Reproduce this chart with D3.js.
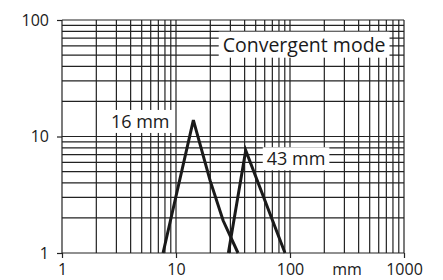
<!DOCTYPE html>
<html>
<head>
<script src="https://d3js.org/d3.v7.min.js"></script>
<style>
  body { margin: 0; background: #fff; }
  svg text { font-family: "Open Sans", sans-serif; fill: #1a1a1a; }
</style>
</head>
<body>
<div id="chart"></div>
<script>
// x: spot size / distance in mm, y: relative value (log-log)
const xTicks = [1, 10, 100, 1000];
const yTicks = [1, 10, 100];
const series16 = [[7.7, 1], [14.2, 13.8], [19.9, 4.2], [25.9, 1.9], [35, 1]];
const series43 = [[28.8, 1], [40.9, 7.6], [90.4, 1]];
const labels = [
    { text: "16 mm", x: 4.85, y: 13.6, size: 18 },
    { text: "43 mm", x: 113, y: 6.5, size: 18 },
    { text: "Convergent mode", x: 133, y: 62, size: 19.5 }
];

const W = 443, H = 280;
const MARGIN = { left: 62, right: 39, top: 20, bottom: 27 };

const svg = d3.select("#chart").append("svg")
    .attr("width", W).attr("height", H);

const x = d3.scaleLog().domain([1, 1000]).range([MARGIN.left, W - MARGIN.right]);
const y = d3.scaleLog().domain([1, 100]).range([H - MARGIN.bottom, MARGIN.top]);

// minor grid values: every integer step inside each decade
function gridValues(lo, hi) {
    const v = [];
    for (let d = lo; d < hi; d *= 10)
        for (let k = 1; k <= 10; k++) v.push(d * k);
    return Array.from(new Set(v));
}

const grid = svg.append("g").attr("stroke", "#222").attr("stroke-width", 1.2);

grid.selectAll(".vx").data(gridValues(1, 1000)).join("line")
    .attr("x1", d => x(d)).attr("x2", d => x(d))
    .attr("y1", y(1)).attr("y2", y(100));

grid.selectAll(".hy").data(gridValues(1, 100)).join("line")
    .attr("y1", d => y(d)).attr("y2", d => y(d))
    .attr("x1", x(1)).attr("x2", x(1000));

// axes with outward ticks only at decades
const xAxis = svg.append("g")
    .attr("transform", `translate(0,${y(1)})`)
    .call(d3.axisBottom(x).tickValues(xTicks).tickFormat(d3.format("d")).tickSize(5).tickPadding(6));
const yAxis = svg.append("g")
    .attr("transform", `translate(${x(1)},0)`)
    .call(d3.axisLeft(y).tickValues(yTicks).tickFormat(d3.format("d")).tickSize(5).tickPadding(8));

[xAxis, yAxis].forEach(a => {
    a.select(".domain").remove();
    a.selectAll("line").attr("stroke", "#222").attr("stroke-width", 1.2);
    a.selectAll("text").style("font-size", "16px").attr("fill", "#1a1a1a")
        .style("font-family", "'Open Sans', sans-serif");
});

svg.append("text")
    .attr("x", 347).attr("y", 275)
    .attr("text-anchor", "middle")
    .style("font-size", "16px")
    .text("mm");

// label boxes with white background
labels.forEach(l => {
    const g = svg.append("g");
    const t = g.append("text")
        .attr("x", x(l.x)).attr("y", y(l.y))
        .attr("text-anchor", "middle")
        .attr("dominant-baseline", "central")
        .style("font-size", l.size + "px")
        .text(l.text);
    const b = t.node().getBBox();
    g.insert("rect", "text")
        .attr("x", b.x - 4).attr("y", b.y + 1)
        .attr("width", b.width + 8).attr("height", b.height - 1)
        .attr("fill", "#fff");
});

const line = d3.line().x(d => x(d[0])).y(d => y(d[1]));
[series16, series43].forEach(s => {
    svg.append("path")
        .datum(s)
        .attr("fill", "none")
        .attr("stroke", "#1a1a1a")
        .attr("stroke-width", 3)
        .attr("stroke-linejoin", "miter")
        .attr("d", line);
});
</script>
</body>
</html>
